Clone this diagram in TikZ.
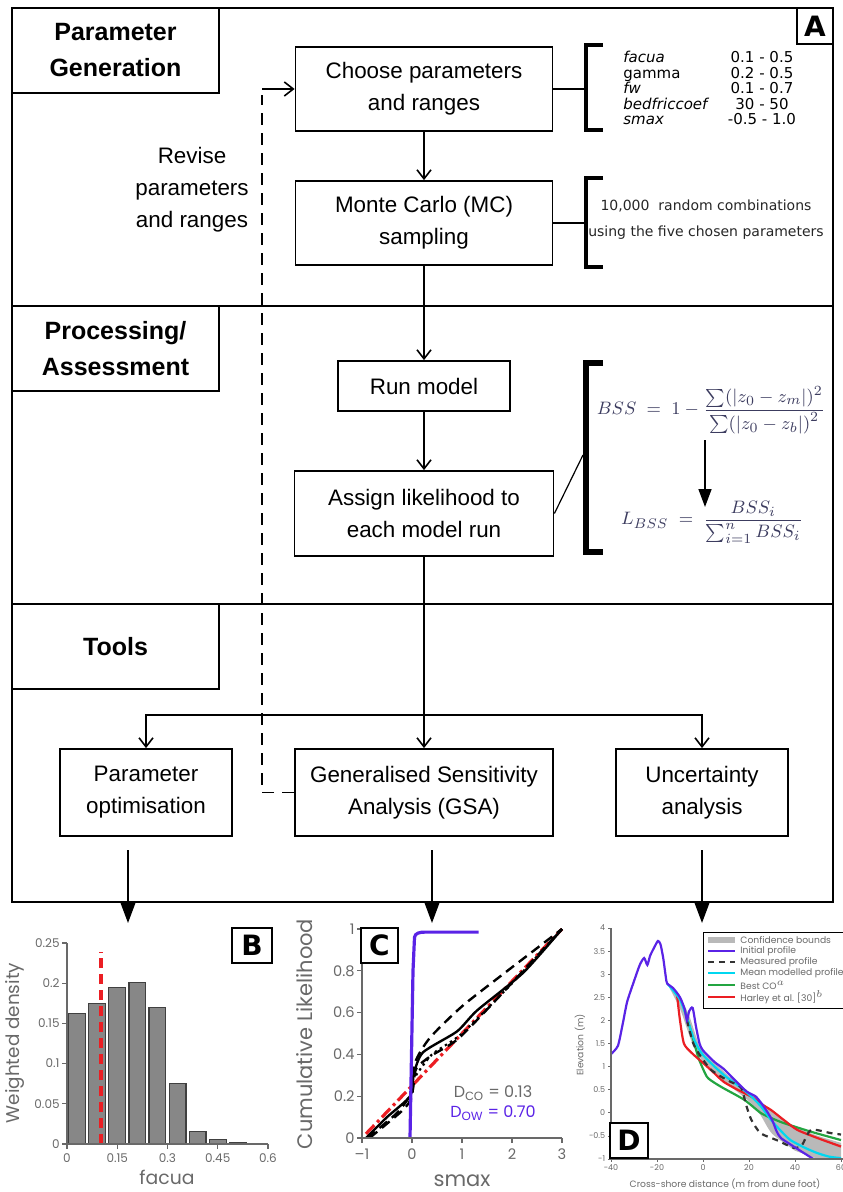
\documentclass[tikz,border=0pt]{standalone}
\usepackage{amsmath}
\usepackage{fontspec}
\setmainfont{Liberation Sans}
\newfontfamily\verdfont{DejaVu Sans}
\newfontfamily\plotfont{Poppins}
\usetikzlibrary{arrows.meta}

\definecolor{plotgray}{RGB}{105,105,105}
\definecolor{barfill}{RGB}{135,135,135}
\definecolor{initblue}{RGB}{90,35,230}
\definecolor{mathcol}{RGB}{60,60,95}
\definecolor{cyanline}{RGB}{0,215,240}
\definecolor{greenline}{RGB}{35,165,65}
\definecolor{redline}{RGB}{235,30,35}

\newcommand\boxfont{\fontsize{11.2}{16}\selectfont}
\newcommand\secfont{\fontsize{12.5}{18}\selectfont\bfseries}

\begin{document}
\begin{tikzpicture}[x=0.5pt, y=-0.5pt,
    box/.style={draw, line width=0.9pt, inner sep=0pt, align=center, font=\boxfont,
                minimum height=42pt, minimum width=#1},
    box/.default=128.5pt,
    secbox/.style={draw, line width=0.9pt, inner sep=0pt, align=center, font=\secfont,
                   minimum width=103.5pt, minimum height=42.5pt},
    flow/.style={line width=0.8pt, -{Straight Barb[length=4.5pt,width=7pt]}},
    outarrow/.style={line width=0.8pt, -{Triangle[length=11pt,width=8pt]}},
    brack/.style={line width=2pt},
    thinlink/.style={line width=0.6pt},
    parname/.style={anchor=base west, inner sep=0pt, font=\verdfont\fontsize{7.5}{8}\selectfont\itshape},
    parval/.style={anchor=base, inner sep=0pt, font=\verdfont\fontsize{7.5}{8}\selectfont},
    letterbox/.style={draw, line width=0.8pt, fill=white, inner sep=0pt, minimum width=19pt,
                      minimum height=17.5pt, font=\verdfont\bfseries\fontsize{14}{14}\selectfont},
    plotlab/.style={font=\plotfont\fontsize{6}{7}\selectfont, text=plotgray, inner sep=1.5pt},
    tinylab/.style={font=\plotfont\fontsize{4}{5}\selectfont, text=plotgray, inner sep=1pt},
]
\useasboundingbox (0,0) rectangle (842,1192);

% frame and the three stages
\draw[line width=1pt] (12,8) rectangle (833,902);
\draw[line width=1pt] (12,306) -- (833,306);
\draw[line width=1pt] (12,604) -- (833,604);

\node[secbox] (pgen) at (115.5,50.5) {Parameter\\Generation};
\node[secbox] (proc) at (115.5,348.5) {Processing/\\Assessment};
\node[secbox] (tools) at (115.5,646.5) {Tools};
\node[letterbox, minimum width=18pt, minimum height=18pt] (labA) at (815,26) {A};

% flow chart
\node[box] (choose) at (424,89) {Choose parameters\\and ranges};
\node[box] (mc) at (424,223) {Monte Carlo (MC)\\sampling};
\node[box=86pt, minimum height=25pt] (run) at (424,386) {Run model};
\node[box=129.5pt, minimum height=42.5pt] (assign) at (424,513.5) {Assign likelihood to\\each model run};
\node[box=86pt, minimum height=43.5pt] (popt) at (146,792.5) {Parameter\\optimisation};
\node[box=129pt, minimum height=43.5pt] (gsa) at (424,792.5) {Generalised Sensitivity\\Analysis (GSA)};
\node[box=86pt, minimum height=43.5pt] (ua) at (702,792.5) {Uncertainty\\analysis};

\node[font=\boxfont, align=center] (revise) at (192,190) {Revise\\parameters\\and ranges};

\draw[flow] (choose) -- (mc);
\draw[flow] (mc) -- (run);
\draw[flow] (run) -- (assign);
\draw[flow] (assign) -- (gsa);
\coordinate (split) at (424,715);
\draw[flow] (split) -| (popt);
\draw[flow] (split) -| (ua);

% feedback loop
\coordinate (fbbot) at (262,792.5);
\coordinate (fbtop) at (262,89);
\coordinate (fbend) at (262,95);
\draw[line width=0.9pt, dash pattern=on 6pt off 4pt] (gsa.west) -- (fbbot) -- (fbend);
\draw[flow] (fbtop) -- (choose.west);

% arrows out to the panels
\coordinate (fromB) at (128,850);
\coordinate (toB) at (128,923);
\coordinate (fromC) at (432,850);
\coordinate (toC) at (432,923);
\coordinate (fromD) at (702,850);
\coordinate (toD) at (702,923);
\draw[outarrow] (fromB) -- (toB);
\draw[outarrow] (fromC) -- (toC);
\draw[outarrow] (fromD) -- (toD);

% parameter ranges
\draw[brack] (603,45) -- (586,45) -- (586,130) -- (603,130);
\coordinate (brA) at (585,89);
\draw[thinlink] (choose.east) -- (brA);
\node[parname] (pn1) at (623,63) {facua};
\node[parname, font=\verdfont\fontsize{7.5}{8}\selectfont] (pn2) at (623,78.5) {gamma};
\node[parname] (pn3) at (623,94) {fw};
\node[parname] (pn4) at (623,109.5) {bedfriccoef};
\node[parname] (pn5) at (623,125) {smax};
\node[parval] (pv1) at (762,63) {0.1 - 0.5};
\node[parval] (pv2) at (762,78.5) {0.2 - 0.5};
\node[parval] (pv3) at (762,94) {0.1 - 0.7};
\node[parval] (pv4) at (762,109.5) {30 - 50};
\node[parval] (pv5) at (762,125) {-0.5 - 1.0};

% sampling note
\draw[brack] (603,178) -- (586,178) -- (586,267) -- (603,267);
\coordinate (brB) at (585,223);
\draw[thinlink] (mc.east) -- (brB);
\node[align=center, text=black!85, font=\verdfont\fontsize{7}{13}\selectfont] (mcnote) at (706,220)
    {10,000\ \ random combinations\\using the five chosen parameters};

% likelihood
\draw[line width=2.6pt] (603,363) -- (586,363) -- (586,552) -- (603,552);
\coordinate (brC) at (583,455);
\draw[thinlink] (assign.east) -- (brC);
\node[text=mathcol, font=\fontsize{9.3}{11}\selectfont] (bss) at (711,410)
    {$BSS \;=\; 1 - \dfrac{\textstyle\sum(|z_0 - z_m|)^2}{\textstyle\sum(|z_0 - z_b|)^2}$};
\node[text=mathcol, font=\fontsize{9.3}{11}\selectfont] (lbss) at (712,522)
    {$L_{BSS} \;=\; \dfrac{BSS_i}{\textstyle\sum_{i=1}^{n} BSS_i}$};
\coordinate (bssfrom) at (705,440);
\coordinate (bssto) at (705,507);
\draw[line width=0.8pt, -{Triangle[length=9pt,width=6.5pt]}] (bssfrom) -- (bssto);

% panel B: histogram
\begin{scope}[shift={(67,1144)}, x=167.5pt, y=402pt]
  \foreach \i/\h in {0/0.162,1/0.175,2/0.195,3/0.201,4/0.170,5/0.075,6/0.016,7/0.006,8/0.002,9/0.001}
    \draw[fill=barfill, draw=black!75, line width=0.6pt] ({0.06*\i+0.005},0) rectangle ({0.06*\i+0.055},\h);
  \draw[redline, line width=2pt, dash pattern=on 5pt off 3pt] (0.1,0) -- (0.1,0.239);
  \draw[plotgray, line width=0.8pt] (0,0.25) -- (0,0) -- (0.6,0);
  \foreach \v in {0,0.05,0.1,0.15,0.2,0.25} {
    \draw[plotgray, line width=0.6pt] (0,\v) -- ++(-2.5pt,0);
    \node[plotlab, anchor=east] at (-0.012,\v) {\v};
  }
  \foreach \v in {0,0.15,0.3,0.45,0.6} {
    \draw[plotgray, line width=0.6pt] (\v,0) -- ++(0,-2.5pt);
    \node[plotlab, anchor=north] at (\v,-0.008) {\v};
  }
\end{scope}
\node[font=\plotfont\fontsize{9.4}{10}\selectfont, text=plotgray] (xlabB) at (167,1177) {facua};
\node[font=\plotfont\fontsize{9.2}{10}\selectfont, text=plotgray, rotate=90] (ylabB) at (15,1043) {Weighted density};
\node[letterbox, minimum width=20pt] (labB) at (252,945.5) {B};

% panel C: cumulative likelihood
\begin{scope}[shift={(412,1138)}, x=25pt, y=104.5pt]
  \draw[redline, line width=1.6pt, dash pattern=on 6pt off 2pt on 1.5pt off 2pt] (-0.92,0.02) -- (3,1);
  \draw[black, line width=1.2pt, dash pattern=on 5pt off 3pt] plot[smooth, tension=0.4] coordinates
    {(-0.85,0) (-0.2,0.13) (0,0.2) (0.06,0.36) (0.36,0.48) (1.0,0.63) (1.8,0.78) (3,1)};
  \draw[black, line width=1.2pt, dash pattern=on 5pt off 3pt] plot[smooth, tension=0.4] coordinates
    {(-0.9,0) (-0.3,0.12) (0,0.22) (0.08,0.33) (0.36,0.39) (0.9,0.47) (1.56,0.63) (3,1)};
  \draw[black, line width=1.1pt, dash pattern=on 1.2pt off 1.8pt] plot[smooth, tension=0.4] coordinates
    {(0.08,0.3) (0.4,0.4) (1.0,0.5) (2,0.74) (3,1)};
  \draw[black, line width=1.2pt] plot[smooth, tension=0.4] coordinates
    {(-0.92,0) (-0.5,0.1) (-0.04,0.2) (0.04,0.31) (0.22,0.41) (0.9,0.51) (1.3,0.61) (2.22,0.79) (3,1)};
  \draw[initblue, line width=1.6pt] (-0.04,0) -- (0.02,0.8) -- (0.05,0.96)
    to[out=85, in=180] (0.25,0.985) -- (1.33,0.985);
  \draw[plotgray, line width=0.8pt] (-1,1) -- (-1,0) -- (3,0);
  \foreach \v in {0,0.2,0.4,0.6,0.8,1} {
    \draw[plotgray, line width=0.6pt] (-1,\v) -- ++(-2.5pt,0);
    \node[font=\plotfont\fontsize{7.3}{8}\selectfont, text=plotgray, anchor=east, inner sep=1.5pt] at (-1.08,\v) {\v};
  }
  \foreach \v/\t in {-1/\textendash1,0/0,1/1,2/2,3/3} {
    \draw[plotgray, line width=0.6pt] (\v,0) -- ++(0,-2.5pt);
    \node[font=\plotfont\fontsize{7.3}{8}\selectfont, text=plotgray, anchor=north, inner sep=1.5pt] at (\v,-0.035) {\t};
  }
  \node[font=\plotfont\fontsize{8}{9}\selectfont, text=plotgray] (dco) at (1.62,0.215) {D$_{\mathrm{CO}}$ = 0.13};
  \node[font=\plotfont\fontsize{8}{9}\selectfont, text=initblue] (dow) at (1.62,0.12) {D$_{\mathrm{OW}}$ = 0.70};
\end{scope}
\node[font=\plotfont\fontsize{10.5}{11}\selectfont, text=plotgray] (xlabC) at (462,1181) {smax};
\node[font=\plotfont\fontsize{10.5}{11}\selectfont, text=plotgray, rotate=90] (ylabC) at (305,1034) {Cumulative Likelihood};
\node[letterbox, minimum width=18.5pt] (labC) at (379.5,945.5) {C};

% panel D: profiles
\begin{scope}[shift={(703,1112.8)}, x=1.15pt, y=23.1pt]
  \fill[gray!55] plot[smooth, tension=0.4] coordinates
    {(-15.6,2.8) (-10,2.5) (-6,2.1) (-2,1.5) (0,1.35) (10,0.85) (20,0.45) (30,0.05) (40,-0.3) (50,-0.5) (60,-0.65)}
    -- (60,-1) -- (50,-1)
    -- plot[smooth, tension=0.4] coordinates
    {(40,-0.82) (30,-0.45) (25,-0.05) (20,0.25) (10,0.65) (0,1.1) (-5,1.55) (-10,2.25) (-15.6,2.8)};
  \draw[greenline, line width=1.1pt] plot[smooth, tension=0.4] coordinates
    {(-8.5,2.3) (-6,1.9) (-3.5,1.45) (-1.7,1.15) (1.7,0.78) (5,0.65) (9,0.53) (18,0.28) (25,0.0) (30,-0.12) (35,-0.22) (47,-0.41) (60,-0.59)};
  \draw[redline, line width=1.1pt] plot[smooth, tension=0.4] coordinates
    {(-11.3,2.55) (-10,2.0) (-8.3,1.5) (-5,1.3) (0,1.08) (4,0.9) (9,0.67) (15,0.5) (21,0.35) (25,0.2) (29.6,0.06) (35,-0.15) (41,-0.37) (50,-0.55) (60,-0.73)};
  \draw[cyanline, line width=1.1pt] plot[smooth, tension=0.4] coordinates
    {(-15.6,2.8) (-13,2.65) (-10,2.45) (-8,2.2) (-6,1.9) (-4,1.6) (-2,1.4) (0,1.25) (5,1.0) (10,0.78) (15,0.6) (20,0.4) (25,0.15) (30,-0.18) (35,-0.45) (38,-0.59) (44,-0.75) (49.6,-0.87) (55,-0.95) (60,-0.98)};
  \draw[black!80, line width=1.1pt, dash pattern=on 3pt off 2.5pt] plot[smooth, tension=0.4] coordinates
    {(-7,2.0) (-4,1.47) (0,1.15) (3.5,0.93) (8,0.78) (12,0.67) (16.5,0.55) (19,0.13) (21,-0.15) (25,-0.44) (32,-0.59) (39.6,-0.76) (43,-0.7) (47,-0.37) (55.6,-0.44) (60,-0.47)};
  \draw[initblue, line width=1.1pt] plot[smooth, tension=0.4] coordinates
    {(-40,1.27) (-37,1.45) (-35,1.9) (-33,2.4) (-30,2.85) (-27.5,3.2) (-25.6,3.35) (-24.2,3.2) (-23,3.4) (-21,3.6) (-19.6,3.72) (-18.5,3.65) (-17.3,3.35) (-16.2,2.95) (-15.6,2.8) (-13,2.7) (-10,2.5) (-8,2.25) (-7,2.0) (-6,2.2) (-4.5,2.27) (-3,1.85) (-1.5,1.5) (0,1.35) (5,1.1) (9,0.95) (14,0.7) (19,0.46) (23,0.35) (26.5,0.13) (30,-0.15) (32,-0.4) (34,-0.55) (41,-0.78) (48,-1.0)};
  \draw[plotgray, line width=0.6pt] (-40,4) -- (-40,-1) -- (62,-1);
  \foreach \v in {-1,-0.5,0,0.5,1,1.5,2,2.5,3,3.5,4} {
    \draw[plotgray, line width=0.4pt] (-40,\v) -- ++(-1.5pt,0);
    \node[tinylab, anchor=east] at (-41.5,\v) {\v};
  }
  \foreach \v in {-40,-20,0,20,40,60} {
    \draw[plotgray, line width=0.4pt] (\v,-1) -- ++(0,-1.5pt);
    \node[tinylab, anchor=north] at (\v,-1.06) {\v};
  }
\end{scope}
\node[font=\plotfont\fontsize{4.6}{5}\selectfont, text=plotgray] (xlabD) at (725,1184) {Cross-shore distance (m from dune foot)};
\node[font=\plotfont\fontsize{4.6}{5}\selectfont, text=plotgray, rotate=90] (ylabD) at (580,1045) {Elevation (m)};
\node[letterbox] (labD) at (629,1140.5) {D};

% legend of panel D
\draw[line width=0.5pt, fill=white] (703,932) rectangle (870,1008);
\fill[gray!55] (708,937) rectangle (735,943);
\draw[initblue, line width=1.1pt] (708,951) -- (735,951);
\draw[black!80, line width=1.1pt, dash pattern=on 3pt off 2.5pt] (708,962) -- (735,962);
\draw[cyanline, line width=1.1pt] (708,973) -- (735,973);
\draw[greenline, line width=1.1pt] (708,985) -- (735,985);
\draw[redline, line width=1.1pt] (708,997) -- (735,997);
\node[tinylab, anchor=west, font=\plotfont\fontsize{4.6}{5}\selectfont] (lg1) at (738,940) {Confidence bounds};
\node[tinylab, anchor=west, font=\plotfont\fontsize{4.6}{5}\selectfont] (lg2) at (738,951) {Initial profile};
\node[tinylab, anchor=west, font=\plotfont\fontsize{4.6}{5}\selectfont] (lg3) at (738,962) {Measured profile};
\node[tinylab, anchor=west, font=\plotfont\fontsize{4.6}{5}\selectfont] (lg4) at (738,973) {Mean modelled profile};
\node[tinylab, anchor=west, font=\plotfont\fontsize{4.6}{5}\selectfont] (lg5) at (738,985) {Best CO$^{a}$};
\node[tinylab, anchor=west, font=\plotfont\fontsize{4.6}{5}\selectfont] (lg6) at (738,997) {Harley et al. [30]$^{b}$};
\end{tikzpicture}
\end{document}
